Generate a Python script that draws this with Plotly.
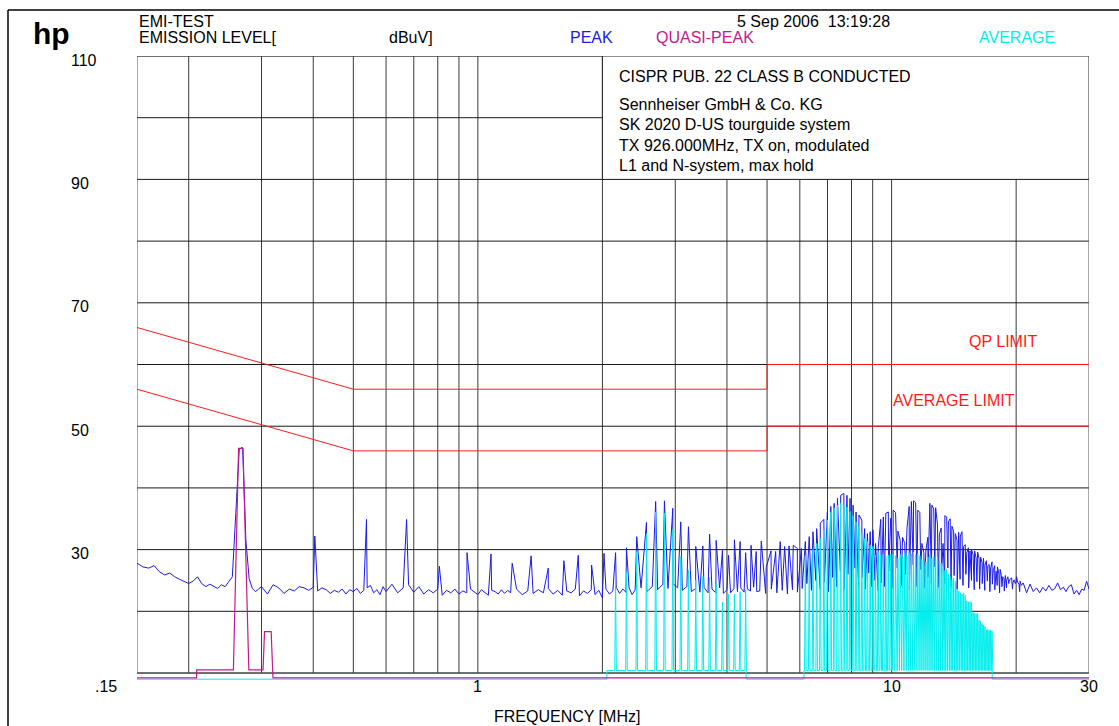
import math
import numpy as np
import plotly.graph_objects as go

# ---------------------------------------------------------------------------
# Page geometry
# ---------------------------------------------------------------------------
W, H = 1119, 726
L, R, T, B = 137, 30, 56, 42
F_LO, F_HI = 0.15, 30.0
Y_LO, Y_HI = 8.22, 110.0

FONT = "Liberation Sans, Arial, Helvetica, sans-serif"
BLUE = "#1a1ae8"
MAGENTA = "#c4188e"
CYAN = "#00eeee"
RED = "#ff1a1a"


def paper_x(px):
    return (px - L) / (W - L - R)


def paper_y(py):
    return (H - B - py) / (H - T - B)


# ---------------------------------------------------------------------------
# Measured data
# ---------------------------------------------------------------------------
# Background of the PEAK sweep, one block per octave: (start MHz, step MHz, levels dBuV)
noise_a = [27.8, 27.2, 27.0, 27.4, 26.4, 25.9, 26.2, 25.6, 25.2, 24.8,
           24.5, 24.9, 25.6, 24.5, 24.0, 24.4, 24.0, 23.7, 24.3, 24.0,
           24.8, 25.6, 36.0, 46.2, 46.4, 31.5, 25.3, 23.7, 23.2, 23.6]
noise_b = [24.0, 22.8, 24.3, 23.8, 22.9, 23.6, 23.3, 24.0, 23.8, 23.4,
           23.9, 23.3, 23.8, 23.5, 22.9, 23.4, 23.1, 23.6, 22.8, 23.5,
           23.2, 23.7, 22.9, 23.4, 23.8, 24.2, 23.0, 23.5, 22.7, 24.0]
noise_c = [23.2, 24.4, 23.0, 23.8, 24.3, 23.1, 24.0, 22.8, 23.5, 23.0,
           23.6, 22.6, 23.4, 23.0, 23.6, 22.8, 23.3, 23.0, 23.6, 23.1,
           22.7, 23.5, 23.0, 22.6, 23.4, 23.2, 22.8, 23.5, 22.9, 23.4]
noise_d = [23.0, 23.6, 22.7, 23.3, 22.9, 23.5, 23.0, 23.7, 22.8, 23.4,
           22.6, 23.3, 23.0, 23.6, 22.5, 23.3, 22.9, 23.5, 22.7, 23.4,
           22.2, 23.6, 22.8, 23.3, 23.9, 22.9, 23.6, 23.1, 23.8, 22.7]
noise_e = [23.5, 23.8, 23.2, 24.0, 23.5, 24.4, 23.7, 24.5, 23.8, 23.4,
           24.0, 23.2, 23.7, 23.1, 23.9, 23.0, 23.6, 23.0, 23.8, 22.9,
           23.5, 23.0, 23.7, 23.2, 23.8, 23.1, 23.6, 23.3, 23.9, 23.2]
noise_f = [23.3, 22.9, 23.6, 23.0, 23.4, 22.8, 23.5, 23.1, 23.7, 24.5,
           23.4, 25.0, 23.6, 24.8, 23.2, 25.5, 24.0, 26.5, 23.5, 26.0,
           24.2, 27.0, 23.8, 25.5, 23.6, 26.2, 24.0, 25.0, 23.3, 24.6]
noise_g = [24.0, 26.5, 23.8, 27.0, 24.2, 26.0, 23.5, 27.5, 24.0, 26.8,
           23.8, 25.5, 24.4, 27.2, 23.9, 26.0, 24.5, 27.0, 24.0, 25.8,
           23.6, 25.2, 24.2, 26.0, 23.8, 25.0, 23.5, 24.8, 23.6, 24.5,
           23.4, 24.9, 23.2, 24.4, 23.5, 24.2, 23.0, 24.0, 23.3, 23.8]
noise_h = [24.5, 23.6, 24.8, 23.2, 24.6, 23.0, 24.4, 23.2, 23.8, 23.0,
           23.9, 23.3, 24.2, 23.4, 23.7, 24.6, 23.5, 23.9, 23.2, 24.0,
           24.3, 22.8, 23.4, 22.7, 23.6, 23.4, 24.9, 23.6]
sweep_blocks = [
    (0.150, 0.005, noise_a),
    (0.30, 0.01, noise_b),
    (0.60, 0.02, noise_c),
    (1.20, 0.04, noise_d),
    (2.40, 0.08, noise_e),
    (4.80, 0.16, noise_f),
    (9.60, 0.24, noise_g),
    (19.2, 0.40, noise_h),
]

# Harmonic lines of the ~134.5 kHz emission (MHz)
harm_mhz = [
    0.269, 0.4035, 0.538, 0.6725, 0.807, 0.9415, 1.076, 1.2105, 1.345, 1.4795,
    1.614, 1.7485, 1.883, 2.0175, 2.152, 2.2865, 2.421, 2.5555, 2.69, 2.8245,
    2.959, 3.0935, 3.228, 3.3625, 3.497, 3.6315, 3.766, 3.9005, 4.035, 4.1695,
    4.304, 4.4385, 4.573, 4.7075, 4.842, 4.9765, 5.111, 5.2455, 5.38, 5.5145,
    5.649, 5.7835, 5.918, 6.0525, 6.187, 6.3215, 6.456, 6.5905, 6.725, 6.8595,
    6.994, 7.1285, 7.263, 7.3975, 7.532, 7.6665, 7.801, 7.9355, 8.07, 8.2045,
    8.339, 8.4735, 8.608, 8.7425, 8.877, 9.0115, 9.146, 9.2805, 9.415, 9.5495,
    9.684, 9.8185, 9.953, 10.0875, 10.222, 10.3565, 10.491, 10.6255, 10.76, 10.8945,
    11.029, 11.1635, 11.298, 11.4325, 11.567, 11.7015, 11.836, 11.9705, 12.105, 12.2395,
    12.374, 12.5085, 12.643, 12.7775, 12.912, 13.0465, 13.181, 13.3155, 13.45, 13.5845,
    13.719, 13.8535, 13.988, 14.1225, 14.257, 14.3915, 14.526, 14.6605, 14.795, 14.9295,
    15.064, 15.1985, 15.333, 15.4675, 15.602, 15.7365, 15.871, 16.0055, 16.14, 16.2745,
    16.409, 16.5435, 16.678, 16.8125, 16.947, 17.0815, 17.216, 17.3505, 17.485, 17.6195,
    17.754, 17.8885, 18.023, 18.1575, 18.292, 18.4265, 18.561, 18.6955, 18.83, 18.9645,
    19.099, 19.2335, 19.368, 19.5025, 19.637, 19.7715, 19.906, 20.0405, 20.175, 20.3095,
    20.444, 20.5785, 20.713,
]
# PEAK detector level at each harmonic (dBuV)
peak_dbuv = [
    46.6, 32.2, 34.9, 34.9, 27.3, 29.5, 29.3, 27.8, 29.0, 27.0,
    28.2, 29.1, 27.5, 29.4, 29.5, 30.3, 32.1, 34.4, 37.8, 37.9,
    36.7, 34.5, 33.7, 30.5, 30.6, 32.5, 31.5, 29.9, 29.1, 31.6,
    31.3, 29.5, 30.7, 29.7, 31.4, 27.1, 29.8, 29.7, 31.3, 30.5,
    30.6, 30.7, 30.2, 30.2, 31.3, 32.1, 32.9, 33.4, 34.3, 34.9,
    36.1, 37.0, 37.5, 38.3, 38.8, 39.1, 38.8, 38.3, 37.2, 36.1,
    35.6, 34.8, 33.4, 32.6, 32.9, 33.2, 31.0, 30.2, 34.9, 35.3,
    35.9, 36.1, 35.1, 36.4, 36.0, 33.0, 31.5, 32.0, 31.0, 33.5,
    37.0, 37.8, 37.9, 37.6, 36.4, 36.0, 31.0, 29.5, 30.0, 32.0,
    37.5, 37.2, 36.6, 36.8, 34.0, 32.5, 33.5, 31.0, 35.5, 35.3,
    34.5, 35.0, 33.8, 33.0, 32.6, 31.5, 32.8, 32.2, 32.9, 30.5,
    30.8, 29.5, 30.3, 29.8, 30.0, 29.2, 29.8, 28.6, 29.6, 28.5,
    28.8, 27.9, 28.6, 27.5, 28.2, 27.4, 27.6, 27.0, 28.0, 26.8,
    27.4, 26.5, 27.2, 26.2, 26.8, 25.8, 25.6, 25.3, 25.8, 25.0,
    25.6, 24.8, 25.3, 25.4, 24.6, 25.1, 24.5, 25.6, 24.7, 24.4,
    24.9, 24.2, 24.6,
]

# AVERAGE detector: measured frequency bands and the harmonic levels inside them
avg_bands_mhz = [(2.05, 4.45), (6.14, 17.5)]
avg_band1_dbuv = [25.1, 26.4, 29.7, 32.6, 36.1, 35.9, 33.3, 28.9, 26.7, 25.1,
                  25.6, 25.5, 24.5, 21.5, 22.8, 22.8, 23.2, 23.5]
avg_band2_dbuv = [
    29.0, 28.5, 30.0, 31.0, 31.8, 33.2, 34.8, 36.1, 36.7, 37.2,
    37.5, 37.2, 36.9, 36.2, 35.5, 34.5, 33.7, 32.6, 31.8, 31.3,
    30.7, 30.5, 29.1, 29.5, 29.1, 29.3, 28.9, 29.1, 29.3, 29.3,
    29.0, 28.6, 29.2, 28.8, 29.4, 29.0, 29.5, 29.3, 29.6, 29.2,
    29.4, 29.0, 28.4, 27.5, 28.0, 28.8, 29.2, 28.6, 28.9, 28.4,
    28.7, 28.2, 27.8, 27.0, 26.6, 26.8, 26.0, 25.6, 25.1, 25.4,
    24.8, 23.6, 23.3, 23.0, 22.8, 23.0, 22.6, 21.7, 21.5, 21.6,
    21.4, 19.8, 19.7, 19.6, 19.7, 18.6, 18.4, 18.0, 17.8, 17.5,
    17.0, 17.1, 16.9, 17.0, 16.8,
]
avg_floor_dbuv = 9.0        # below display range
avg_band_floor_dbuv = 10.4  # floor inside the measured bands

# QUASI-PEAK trace (only measured around the 269 kHz line)
qp_mhz = [0.15, 0.209, 0.209, 0.2565, 0.264, 0.2706, 0.2795, 0.3025, 0.305, 0.3165, 0.3197, 30.0]
qp_dbuv = [9.2, 9.2, 10.5, 10.5, 46.4, 46.4, 10.5, 10.5, 16.7, 16.7, 9.2, 9.2]

# CISPR 22 class B conducted limits
qp_limit_mhz = [0.15, 0.5, 5.0, 5.0, 30.0]
qp_limit_dbuv = [66, 56, 56, 60, 60]
avg_limit_mhz = [0.15, 0.5, 5.0, 5.0, 30.0]
avg_limit_dbuv = [56, 46, 46, 50, 50]

# Axis labels
grid_mhz = [0.2, 0.3, 0.4, 0.5, 0.6, 0.7, 0.8, 0.9, 1, 2, 3, 4, 5, 6, 7, 8, 9, 10, 20]
grid_dbuv = [10, 20, 30, 40, 50, 60, 70, 80, 90, 100, 110]
y_tick_dbuv = [110, 90, 70, 50, 30]
x_tick_mhz = [0.15, 1, 10, 30]
x_tick_text = [".15", "1", "10", "30"]

info_lines = [
    "CISPR PUB. 22 CLASS B CONDUCTED",
    "Sennheiser GmbH & Co. KG",
    "SK 2020 D-US tourguide system",
    "TX 926.000MHz, TX on, modulated",
    "L1 and N-system, max hold",
]

# ---------------------------------------------------------------------------
# Build traces
# ---------------------------------------------------------------------------
sweep_mhz = np.concatenate([np.round(s + st * np.arange(len(v)), 4) for s, st, v in sweep_blocks])
sweep_dbuv = np.concatenate([np.asarray(v, float) for _, _, v in sweep_blocks])

pk_x = np.concatenate([sweep_mhz, np.asarray(harm_mhz)])
pk_y = np.concatenate([sweep_dbuv, np.asarray(peak_dbuv)])
order = np.argsort(pk_x, kind="mergesort")
pk_x, pk_y = pk_x[order], pk_y[order]

# average trace: narrow spikes from the band floor at each harmonic
px_per_decade = (W - L - R) / (math.log10(F_HI) - math.log10(F_LO))
half = 10 ** (0.8 / px_per_decade)
av_x, av_y = [F_LO], [avg_floor_dbuv]
harm_arr = np.asarray(harm_mhz)
for (lo, hi), levels in zip(avg_bands_mhz, [avg_band1_dbuv, avg_band2_dbuv]):
    inside = harm_arr[(harm_arr > lo) & (harm_arr < hi)]
    av_x += [lo, lo]
    av_y += [avg_floor_dbuv, avg_band_floor_dbuv]
    for f, lv in zip(inside, levels):
        av_x += [f / half, f, f * half]
        av_y += [avg_band_floor_dbuv, lv, avg_band_floor_dbuv]
    av_x += [hi, hi]
    av_y += [avg_band_floor_dbuv, avg_floor_dbuv]
av_x.append(F_HI)
av_y.append(avg_floor_dbuv)

fig = go.Figure()
for xs, ys in [(qp_limit_mhz, qp_limit_dbuv), (avg_limit_mhz, avg_limit_dbuv)]:
    fig.add_trace(go.Scatter(x=xs, y=ys, mode="lines",
                             line=dict(color=RED, width=1), hoverinfo="skip"))
fig.add_trace(go.Scatter(x=pk_x, y=pk_y, mode="lines",
                         line=dict(color=BLUE, width=1), name="PEAK"))
fig.add_trace(go.Scatter(x=av_x, y=av_y, mode="lines",
                         line=dict(color=CYAN, width=1), name="AVERAGE"))
fig.add_trace(go.Scatter(x=qp_mhz, y=qp_dbuv, mode="lines",
                         line=dict(color=MAGENTA, width=1.2), name="QUASI-PEAK"))

# ---------------------------------------------------------------------------
# Grid, frame and info box (shape coordinates on the log axis are in MHz)
# ---------------------------------------------------------------------------
shapes = []
for f in grid_mhz:
    shapes.append(dict(type="line", xref="x", yref="y", x0=f, x1=f,
                       y0=10, y1=110, line=dict(color="#3a3a3a", width=1), layer="below"))
for v in grid_dbuv:
    shapes.append(dict(type="line", xref="x", yref="y", x0=F_LO, x1=F_HI, y0=v, y1=v,
                       line=dict(color="#1a1a1a", width=1), layer="below"))
shapes.append(dict(type="rect", xref="x", yref="y", x0=F_LO, x1=F_HI, y0=10, y1=110,
                   line=dict(color="#555555", width=1), layer="below"))
shapes.append(dict(type="rect", xref="x", yref="y", x0=2.0, x1=F_HI, y0=90, y1=110,
                   fillcolor="white", line=dict(color="#222222", width=1), layer="below"))
# page border
shapes.append(dict(type="line", xref="paper", yref="paper", x0=paper_x(8), x1=paper_x(1125),
                   y0=paper_y(10), y1=paper_y(10), line=dict(color="black", width=1.5)))
shapes.append(dict(type="line", xref="paper", yref="paper", x0=paper_x(8), x1=paper_x(8),
                   y0=paper_y(10), y1=paper_y(730), line=dict(color="black", width=1.5)))

ann = []


def text(s, px, py, size=16, color="black", anchor="left", bold=False):
    ann.append(dict(text=f"<b>{s}</b>" if bold else s, xref="paper", yref="paper",
                    x=paper_x(px), y=paper_y(py), xanchor=anchor, yanchor="middle",
                    showarrow=False, font=dict(family=FONT, size=size, color=color)))


text("hp", 31, 34, size=30, bold=True)
text("EMI-TEST", 137, 21)
text("EMISSION LEVEL[", 137, 37)
text("dBuV]", 387, 37)
text("5 Sep 2006&nbsp;&nbsp;13:19:28", 735, 21)
text("PEAK", 568, 37, color=BLUE)
text("QUASI-PEAK", 654, 37, color=MAGENTA)
text("AVERAGE", 977, 37, color=CYAN)
for i, line in enumerate(info_lines):
    text(line, 617, [76, 104.5, 124.5, 145, 165][i])
text("QP LIMIT", 967, 341, color=RED)
text("AVERAGE LIMIT", 891, 400, color=RED)
text("FREQUENCY [MHz]", 567, 716, anchor="center")

for v in y_tick_dbuv:
    ann.append(dict(text=str(v), xref="paper", yref="y", x=paper_x(69), y=v, yshift=-4,
                    xanchor="left", yanchor="middle", showarrow=False,
                    font=dict(family=FONT, size=16, color="black")))
for f, s in zip(x_tick_mhz, x_tick_text):
    ann.append(dict(text=s, xref="x", yref="paper", x=math.log10(f), y=paper_y(686),
                    xshift=-31 if f == F_LO else 0, xanchor="center", yanchor="middle",
                    showarrow=False, font=dict(family=FONT, size=16, color="black")))

fig.update_layout(
    width=W, height=H,
    margin=dict(l=L, r=R, t=T, b=B, pad=0),
    paper_bgcolor="white", plot_bgcolor="white",
    showlegend=False,
    shapes=shapes, annotations=ann,
    xaxis=dict(type="log", range=[math.log10(F_LO), math.log10(F_HI)], showgrid=False,
               zeroline=False, showticklabels=False, ticks="", showline=False, fixedrange=True),
    yaxis=dict(range=[Y_LO, Y_HI], showgrid=False, zeroline=False,
               showticklabels=False, ticks="", showline=False, fixedrange=True),
)

fig.write_html("out.html")
